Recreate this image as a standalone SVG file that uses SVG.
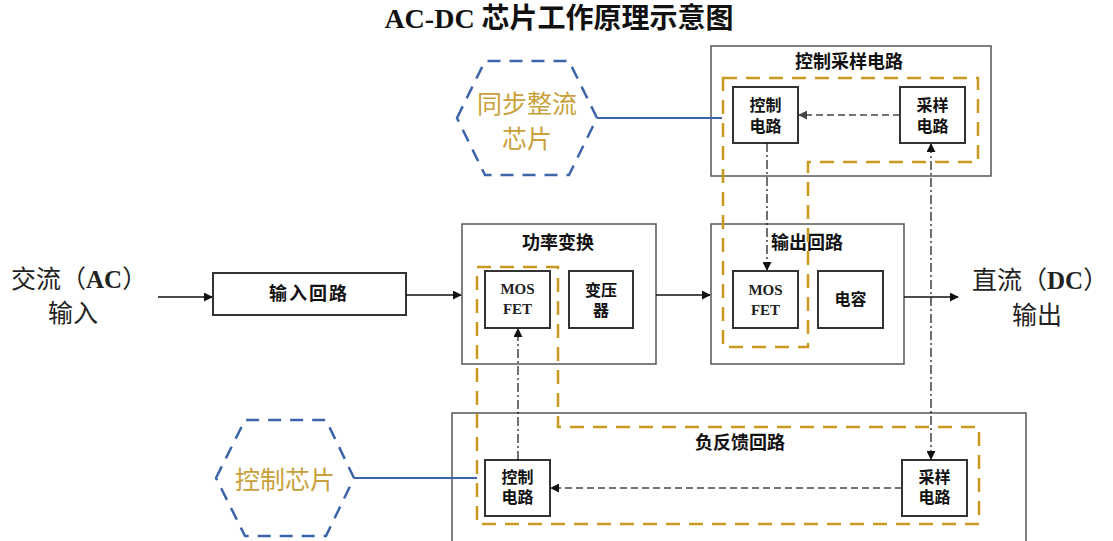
<svg xmlns="http://www.w3.org/2000/svg" width="1113" height="541" viewBox="0 0 1113 541">
<defs>
<marker id="ab" viewBox="0 0 10 10" refX="9" refY="5" markerWidth="9" markerHeight="9" markerUnits="userSpaceOnUse" orient="auto-start-reverse"><path d="M0,0 L10,5 L0,10 z" fill="#111"/></marker>
<marker id="ag" viewBox="0 0 10 10" refX="9" refY="5" markerWidth="9" markerHeight="9" markerUnits="userSpaceOnUse" orient="auto-start-reverse"><path d="M0,0 L10,5 L0,10 z" fill="#444"/></marker>
</defs>
<style>
.outer{fill:none;stroke:#555;stroke-width:1.5}
.box{fill:#fff;stroke:#333;stroke-width:2}
.gold{fill:none;stroke:#C8991E;stroke-width:2.5;stroke-dasharray:14,9}
.hex{fill:#fff;stroke:#3C64AA;stroke-width:2.5;stroke-dasharray:13,9}
.blue{fill:none;stroke:#3C64AA;stroke-width:2.2}
.t{font-family:"Liberation Serif","Noto Sans CJK SC",serif;font-weight:700;fill:#111;text-anchor:middle;dominant-baseline:central}
.tt{font-size:18px}
.tb{font-size:16px}
.tm{font-family:"Liberation Serif",serif;font-size:15px;font-weight:700;fill:#222;text-anchor:middle;dominant-baseline:central}
.big{font-family:"Liberation Serif","Noto Sans CJK SC",serif;font-size:25px;fill:#222;dominant-baseline:central}
.ht{font-family:"Noto Sans CJK SC",sans-serif;font-size:25px;fill:#C9A03A;text-anchor:middle;dominant-baseline:central}
.sol{fill:none;stroke:#111;stroke-width:1.3}
.dsh{fill:none;stroke:#444;stroke-width:1.3;stroke-dasharray:7,4}
.dd{fill:none;stroke:#111;stroke-width:1.2;stroke-dasharray:9,3,2,3}
</style>
<rect width="1113" height="541" fill="#fff"/>
<text x="559" y="18" class="t" style="font-size:28px">AC-DC 芯片工作原理示意图</text>

<g id="ac-input">
<text x="11" y="279" class="big">交流（<tspan font-weight="700">AC</tspan>）</text>
<text x="73" y="313" class="big" text-anchor="middle">输入</text>
</g>

<g id="input-loop">
<rect x="213" y="273" width="193" height="42" class="box"/>
<text x="309" y="294" class="t tt" letter-spacing="2">输入回路</text>
</g>

<g id="power">
<rect x="462" y="224" width="194" height="140" class="outer"/>
<text x="558" y="243" class="t tt">功率变换</text>
</g>

<g id="output">
<rect x="711" y="224" width="193" height="140" class="outer"/>
<text x="807" y="243" class="t tt">输出回路</text>
</g>

<g id="ctrl-sample-top">
<rect x="711" y="46" width="280" height="130" class="outer"/>
<text x="849" y="62" class="t tt">控制采样电路</text>
</g>

<g id="feedback">
<rect x="452" y="413" width="574" height="150" class="outer"/>
<text x="740" y="443" class="t tt">负反馈回路</text>
</g>

<g id="gold-regions">
<path d="M723,78 H978 V162 H808 V347 H723 Z" class="gold"/>
<path d="M477,267 H558 V427 H979 V524 H477 Z" class="gold"/>
</g>

<g id="mosfet-1">
<rect x="485" y="271" width="65" height="57" class="box"/>
<text x="517.5" y="289" class="tm">MOS</text>
<text x="517.5" y="309" class="tm">FET</text>
</g>
<g id="transformer">
<rect x="569" y="271" width="64" height="57" class="box"/>
<text x="601" y="290" class="t tb">变压</text>
<text x="601" y="310" class="t tb">器</text>
</g>
<g id="mosfet-2">
<rect x="733" y="271" width="65" height="57" class="box"/>
<text x="765.5" y="290" class="tm">MOS</text>
<text x="765.5" y="310" class="tm">FET</text>
</g>
<g id="capacitor">
<rect x="818" y="271" width="65" height="57" class="box"/>
<text x="850.5" y="299" class="t tb">电容</text>
</g>
<g id="ctrl-top">
<rect x="733" y="87" width="65" height="56" class="box"/>
<text x="765.5" y="105" class="t tb">控制</text>
<text x="765.5" y="126" class="t tb">电路</text>
</g>
<g id="sample-top">
<rect x="900" y="87" width="65" height="56" class="box"/>
<text x="932.5" y="105" class="t tb">采样</text>
<text x="932.5" y="126" class="t tb">电路</text>
</g>
<g id="ctrl-bottom">
<rect x="485" y="460" width="65" height="56" class="box"/>
<text x="517.5" y="477" class="t tb">控制</text>
<text x="517.5" y="497" class="t tb">电路</text>
</g>
<g id="sample-bottom">
<rect x="902" y="460" width="65" height="56" class="box"/>
<text x="934.5" y="477" class="t tb">采样</text>
<text x="934.5" y="497" class="t tb">电路</text>
</g>

<g id="sync-chip">
<polygon points="457,118 485,61 569,61 597,118 569,175 485,175" class="hex"/>
<text x="527" y="102" class="ht">同步整流</text>
<text x="527" y="137" class="ht">芯片</text>
</g>
<g id="ctrl-chip">
<polygon points="216,478 245,420 326,420 354,478 326,536 245,536" class="hex"/>
<text x="285" y="478" class="ht">控制芯片</text>
</g>

<g id="dc-output">
<text x="972" y="280" class="big">直流（<tspan font-weight="700">DC</tspan>）</text>
<text x="1037" y="315" class="big" text-anchor="middle">输出</text>
</g>

<g id="connectors">
<line x1="158" y1="297" x2="212" y2="297" class="sol" marker-end="url(#ab)"/>
<line x1="406" y1="295" x2="461" y2="295" class="sol" marker-end="url(#ab)"/>
<line x1="656" y1="295" x2="710" y2="295" class="sol" marker-end="url(#ab)"/>
<line x1="904" y1="297" x2="958" y2="297" class="sol" marker-end="url(#ab)"/>
<line x1="597" y1="118" x2="722" y2="118" class="blue"/>
<line x1="354" y1="478" x2="477" y2="478" class="blue"/>
<line x1="900" y1="115" x2="799" y2="115" class="dsh" marker-end="url(#ag)"/>
<line x1="902" y1="488" x2="551" y2="488" class="dsh" stroke="#222" marker-end="url(#ab)"/>
<line x1="767" y1="143" x2="767" y2="270" class="dd" marker-end="url(#ab)"/>
<line x1="518" y1="460" x2="518" y2="329" class="dd" marker-end="url(#ab)"/>
<line x1="931" y1="144" x2="931" y2="459" class="dd" marker-start="url(#ab)" marker-end="url(#ab)"/>
</g>
</svg>
